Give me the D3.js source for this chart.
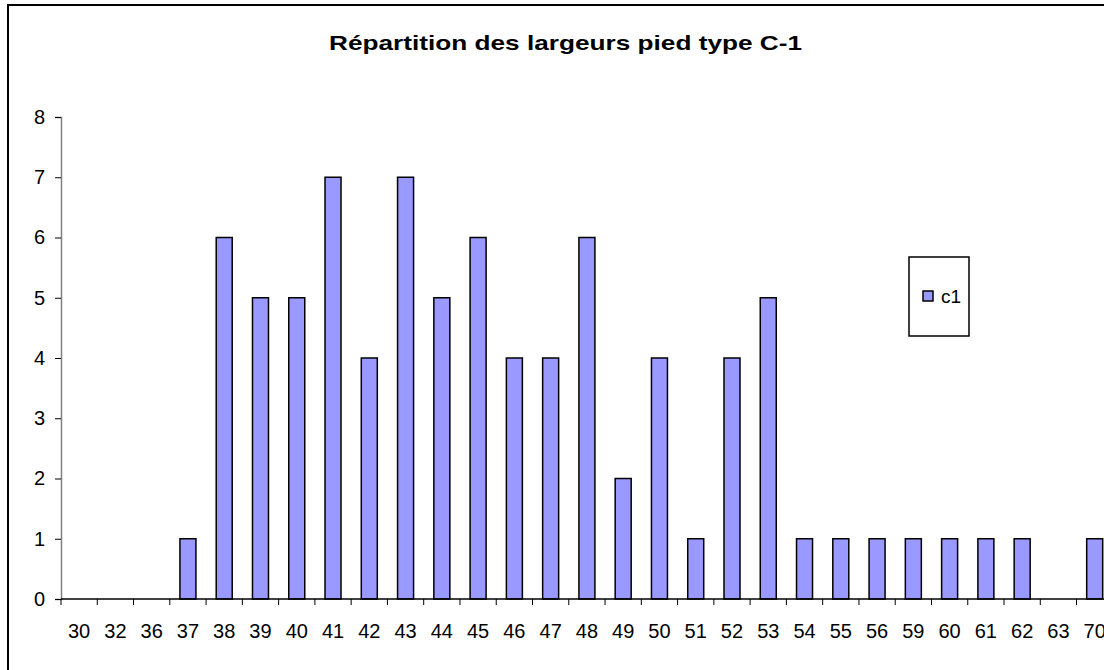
<!DOCTYPE html>
<html>
<head>
<meta charset="utf-8">
<script src="https://cdn.jsdelivr.net/npm/d3@7"></script>
<style>
    body { margin: 0; background: #fff; }
    svg { display: block; font-family: "Liberation Sans", Arial, sans-serif; }
</style>
</head>
<body>
<svg id="chart" width="1104" height="670"></svg>
<script>
// Data
const categories = ["30", "32", "36", "37", "38", "39", "40", "41", "42", "43", "44", "45", "46", "47", "48", "49", "50", "51", "52", "53", "54", "55", "56", "59", "60", "61", "62", "63", "70"];
const counts = [0, 0, 0, 1, 6, 5, 5, 7, 4, 7, 5, 6, 4, 4, 6, 2, 4, 1, 4, 5, 1, 1, 1, 1, 1, 1, 1, 0, 1];
const yTicks = [0, 1, 2, 3, 4, 5, 6, 7, 8];
const seriesName = "c1";
const title = "Répartition des largeurs pied type C-1";

function drawChart() {
    const svg = d3.select("#chart");

    // outer chart frame (runs off the right and bottom edge like the original)
    svg.append("rect")
        .attr("x", 8)
        .attr("y", 5)
        .attr("width", 1200)
        .attr("height", 800)
        .attr("fill", "none")
        .attr("stroke", "#000")
        .attr("stroke-width", 2);

    const left = 61;
    const bottom = 599;
    const top = 117;
    const band = 36.27;

    const x = d3.scaleBand()
        .domain(categories)
        .range([left, left + band * categories.length])
        .paddingInner(0)
        .paddingOuter(0);

    const y = d3.scaleLinear()
        .domain([0, 8])
        .range([bottom, top]);

    // Bars
    const barW = 16;
    svg.append("g")
        .selectAll("rect")
        .data(counts.map((v, i) => ({ cat: categories[i], v })))
        .join("rect")
        .attr("x", d => x(d.cat) + x.bandwidth() / 2 - barW / 2)
        .attr("y", d => y(d.v))
        .attr("width", barW)
        .attr("height", d => bottom - y(d.v))
        .attr("fill", "#9999ff")
        .attr("stroke", "#000")
        .attr("stroke-width", 1.5)
        .style("display", d => d.v > 0 ? null : "none");

    // Y axis
    const yAxis = svg.append("g")
        .attr("transform", `translate(${left},0)`)
        .call(d3.axisLeft(y).tickValues(yTicks).tickSize(6).tickPadding(10).tickFormat(d3.format("d")));
    yAxis.select(".domain").attr("stroke", "#808080").attr("stroke-width", 1.5);
    yAxis.selectAll(".tick line").attr("stroke", "#000");
    yAxis.selectAll("text")
        .style("font-size", "20px")
        .attr("fill", "#000");

    // X axis
    const xTickPos = categories.map(c => x(c));
    const xAxis = svg.append("g");
    xAxis.append("line")
        .attr("x1", left).attr("x2", 1104)
        .attr("y1", bottom).attr("y2", bottom)
        .attr("stroke", "#000")
        .attr("stroke-width", 1.5);
    xAxis.selectAll("line.tk")
        .data(xTickPos)
        .join("line")
        .attr("class", "tk")
        .attr("x1", d => d).attr("x2", d => d)
        .attr("y1", bottom).attr("y2", bottom + 6)
        .attr("stroke", "#000");
    xAxis.selectAll("text")
        .data(categories)
        .join("text")
        .attr("x", d => x(d) + x.bandwidth() / 2)
        .attr("y", 638)
        .attr("text-anchor", "middle")
        .style("font-size", "20px")
        .text(d => d);

    // Title
    svg.append("text")
        .attr("x", 329)
        .attr("y", 50)
        .attr("textLength", 473)
        .attr("lengthAdjust", "spacingAndGlyphs")
        .style("font-size", "21px")
        .style("font-weight", "bold")
        .text(title);

    // Legend
    const lg = svg.append("g");
    lg.append("rect")
        .attr("x", 909).attr("y", 257)
        .attr("width", 60).attr("height", 79)
        .attr("fill", "#fff")
        .attr("stroke", "#000")
        .attr("stroke-width", 1.5);
    lg.append("rect")
        .attr("x", 923).attr("y", 291)
        .attr("width", 10).attr("height", 10)
        .attr("fill", "#9999ff")
        .attr("stroke", "#000")
        .attr("stroke-width", 1.5);
    lg.append("text")
        .attr("x", 941).attr("y", 303)
        .style("font-size", "19px")
        .text(seriesName);
}

drawChart();
</script>
</body>
</html>
